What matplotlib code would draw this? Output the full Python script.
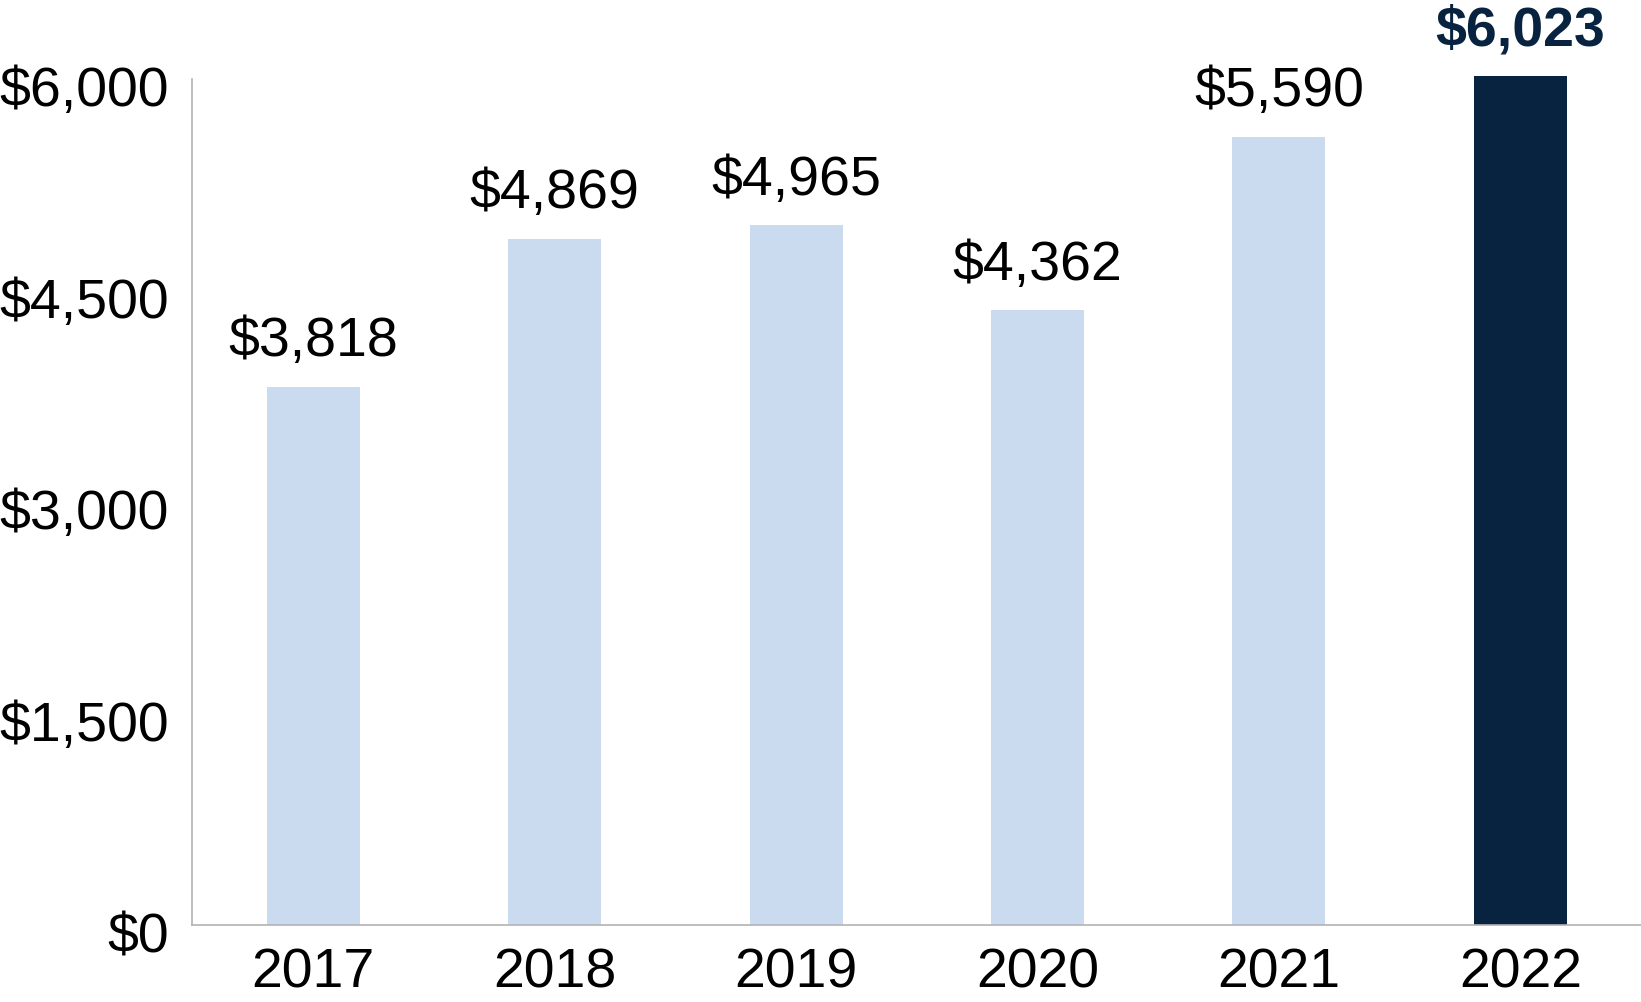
import matplotlib.pyplot as plt
import matplotlib.transforms as mtransforms

years = ['2017', '2018', '2019', '2020', '2021', '2022']
values = [3818, 4869, 4965, 4362, 5590, 6023]
yticks = [0, 1500, 3000, 4500, 6000]

light = '#cadbf0'
dark = '#08233f'
colors = [light] * 5 + [dark]

plt.rcParams['font.family'] = ['Liberation Sans', 'DejaVu Sans']

fig = plt.figure(figsize=(16.41, 10.02), dpi=100)
ax = fig.add_axes([0.1173, 0.0768, 0.8827, 0.8441])

x = range(len(years))
bars = ax.bar(x, values, width=0.385, color=colors, clip_on=False, zorder=2)

for i, v in enumerate(values):
    last = i == len(values) - 1
    ax.annotate('${:,}'.format(v), (i, v), xytext=(0, 22), textcoords='offset points',
                ha='center', va='baseline', fontsize=40,
                fontweight='bold' if last else 'normal',
                color=dark if last else 'black', annotation_clip=False)

ax.set_xlim(-0.5, 5.5)
ax.set_ylim(0, 6000)
ax.set_xticks(list(x))
ax.set_xticklabels(years)
ax.set_yticks(yticks)
ax.set_yticklabels(['${:,}'.format(t) for t in yticks])
ax.tick_params(axis='both', length=0, labelsize=40)
ax.tick_params(axis='y', pad=17)
ax.tick_params(axis='x', pad=16)

off = mtransforms.ScaledTranslation(0, -7 / 100, fig.dpi_scale_trans)
for lab in ax.get_yticklabels():
    lab.set_transform(lab.get_transform() + off)

for s in ['top', 'right']:
    ax.spines[s].set_visible(False)
for s in ['left', 'bottom']:
    ax.spines[s].set_color('#b3b3b3')
    ax.spines[s].set_linewidth(1.2)

fig.savefig('out.png', dpi=100)
